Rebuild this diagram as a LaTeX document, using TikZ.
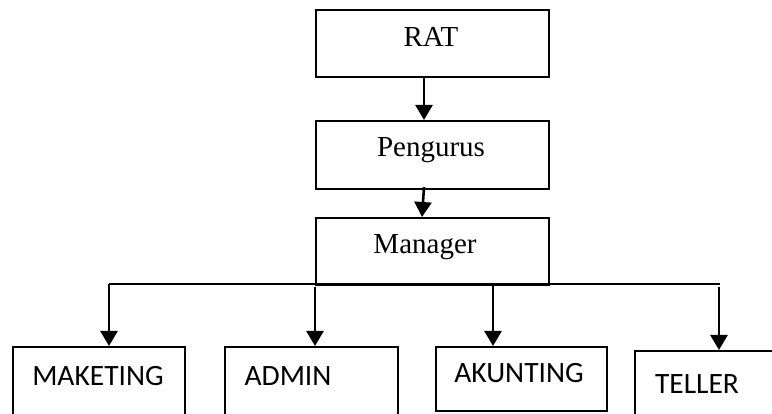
\documentclass[tikz,border=0pt]{standalone}
\usepackage{fontspec}
\setmainfont{Liberation Serif}
\newfontfamily\calfont{Carlito}
\usetikzlibrary{arrows.meta,calc}
\tikzset{
  box/.style={draw, line width=2.2pt, rectangle, inner sep=0pt, anchor=north west},
  serif/.style={font=\fontsize{29}{34}\selectfont, anchor=base, inner sep=0pt},
  sans/.style={font=\calfont\fontsize{29.5}{35}\selectfont, anchor=base, inner sep=0pt},
  link/.style={line width=2.6pt, -{Triangle[width=17pt,length=15pt]}},
  bus/.style={line width=2.4pt}
}
\begin{document}
\begin{tikzpicture}[x=1pt,y=-1pt]
\clip (0,0) rectangle (772,414);
\fill[white] (0,0) rectangle (772,414);

% upper chain
\node[box, minimum width=233pt, minimum height=67pt] (rat) at (315,9) {};
\node[box, minimum width=233pt, minimum height=68pt] (pg) at (315,120) {};
\node[box, minimum width=233pt, minimum height=67pt] (mg) at (315,217) {};
\node[serif] (ratt) at (431,47) {RAT};
\node[serif] (pgt) at (431,157) {Pengurus};
\node[serif] (mgt) at (425,254) {Manager};

% lower row
\node[box, minimum width=172pt, minimum height=90pt] (mk) at (12,346) {};
\node[box, minimum width=173pt, minimum height=90pt] (ad) at (224,346) {};
\node[box, minimum width=171pt, minimum height=64pt] (ak) at (435,346) {};
\node[box, minimum width=160pt, minimum height=90pt] (tl) at (634,350) {};
\node[sans] (mkt) at (98,385) {MAKETING};
\node[sans] (adt) at (288,385) {ADMIN};
\node[sans] (akt) at (519,383) {AKUNTING};
\node[sans] (tlt) at (697,394) {TELLER};

% connectors
\draw[link] (rat.south -| 424,0) -- (pg.north -| 424,0);
\draw[link] ($(pg.south -| 424,0)+(0,-3)$) -- (mg.north -| 422,0);

\coordinate (bl) at (109,284);
\coordinate (br) at (720,284);
\draw[bus] (bl) -- (br);
\draw[link] (bl) -- (mk.north -| bl);
\draw[link] (315,287) -- (ad.north -| 315,0);
\draw[link] (493,284) -- (ak.north -| 493,0);
\draw[link] (719,287) -- (tl.north -| 719,0);
\end{tikzpicture}
\end{document}
